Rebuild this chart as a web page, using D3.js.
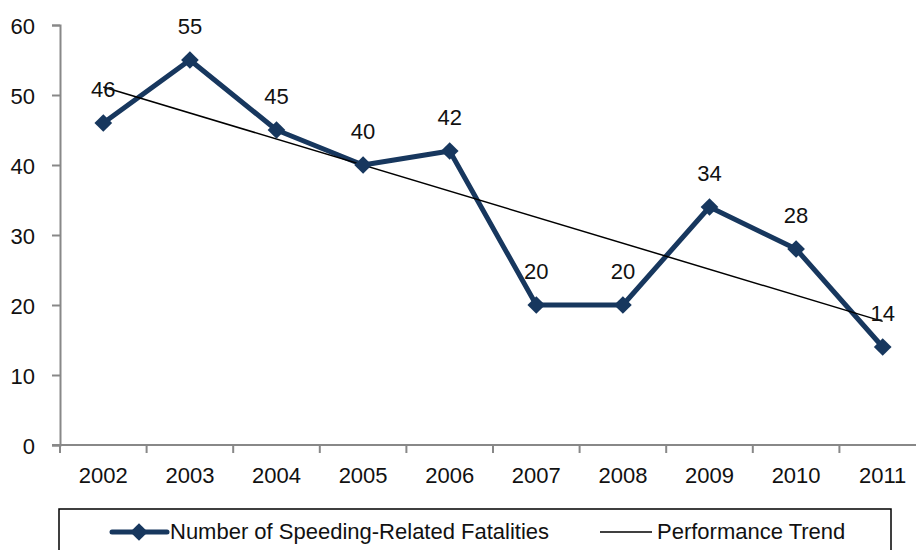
<!DOCTYPE html>
<html><head><meta charset="utf-8">
<script src="https://cdn.jsdelivr.net/npm/d3@7"></script>
<style>
body{margin:0;background:#fff;}
text{font-family:"Liberation Sans",Arial,sans-serif;fill:#111;}
</style></head><body>
<svg id="c" width="916" height="550"></svg>
<script>
const years = ["2002","2003","2004","2005","2006","2007","2008","2009","2010","2011"];
const fatalities = [46,55,45,40,42,20,20,34,28,14];
const trendEnds = [51.15,17.66]; // performance trend at first and last year
const yTicks = [0,10,20,30,40,50,60];
const seriesName = "Number of Speeding-Related Fatalities";
const trendName = "Performance Trend";

const FS = 22;
const svg = d3.select("#c");
const navy = "#17375E";
const axisCol = "#888";

const x = d3.scaleBand().domain(years).range([60, 926]);
const y = d3.scaleLinear().domain([0,60]).range([445, 25]);
const cx = d => x(d) + x.bandwidth()/2;

// y axis
const yAxis = svg.append("g").attr("transform","translate(60,0)")
  .call(d3.axisLeft(y).tickValues(yTicks).tickSize(8).tickPadding(17).tickFormat(d3.format("d")));
yAxis.select(".domain").attr("stroke",axisCol).attr("stroke-width",2);
yAxis.selectAll(".tick line").attr("stroke",axisCol).attr("stroke-width",2);
yAxis.selectAll(".tick text").attr("font-size",FS).style("fill","#111").attr("dy","0.4em");

// x axis
const xAxis = svg.append("g").attr("transform","translate(0,445)")
  .call(d3.axisBottom(x).tickSize(0).tickPadding(22));
xAxis.select(".domain").remove();
xAxis.append("line").attr("x1",52).attr("x2",926).attr("stroke",axisCol).attr("stroke-width",2);
xAxis.selectAll(".tick text").attr("font-size",FS).style("fill","#111");
const bounds = years.map(d=>x(d)).concat([x.range()[1]]);
xAxis.selectAll(".bt").data(bounds).enter().append("line")
  .attr("x1",d=>d).attr("x2",d=>d).attr("y1",0).attr("y2",8)
  .attr("stroke",axisCol).attr("stroke-width",2);
svg.selectAll("g").attr("font-family",null);

// series line
const line = d3.line().x((d,i)=>cx(years[i])).y(d=>y(d));
svg.append("path").datum(fatalities).attr("d",line)
  .attr("fill","none").attr("stroke",navy).attr("stroke-width",5).attr("stroke-linejoin","round");

// trend line
svg.append("line")
  .attr("x1",cx(years[0])).attr("y1",y(trendEnds[0]))
  .attr("x2",cx(years[years.length-1])).attr("y2",y(trendEnds[1]))
  .attr("stroke","#000").attr("stroke-width",1.5);

// markers
const diamond = d3.symbol().type(d3.symbolDiamond2).size(200);
svg.selectAll(".m").data(fatalities).enter().append("path")
  .attr("d",diamond).attr("fill",navy)
  .attr("transform",(d,i)=>`translate(${cx(years[i])},${y(d)})`);

// data labels
svg.selectAll(".lbl").data(fatalities).enter().append("text")
  .attr("x",(d,i)=>cx(years[i])).attr("y",d=>y(d)-26)
  .attr("text-anchor","middle").attr("font-size",FS).text(d=>d);

// legend
const lg = svg.append("g");
lg.append("rect").attr("x",59).attr("y",509).attr("width",832).attr("height",60)
  .attr("fill","none").attr("stroke","#000").attr("stroke-width",1.5);
lg.append("line").attr("x1",112).attr("x2",167).attr("y1",532).attr("y2",532)
  .attr("stroke",navy).attr("stroke-width",5).attr("stroke-linecap","round");
lg.append("path").attr("d",diamond).attr("fill",navy).attr("transform","translate(139,532)");
lg.append("text").attr("x",170).attr("y",539).attr("font-size",FS).text(seriesName);
lg.append("line").attr("x1",600).attr("x2",652).attr("y1",532).attr("y2",532)
  .attr("stroke","#000").attr("stroke-width",1.5);
lg.append("text").attr("x",657).attr("y",539).attr("font-size",FS).text(trendName);
</script>
</body></html>
